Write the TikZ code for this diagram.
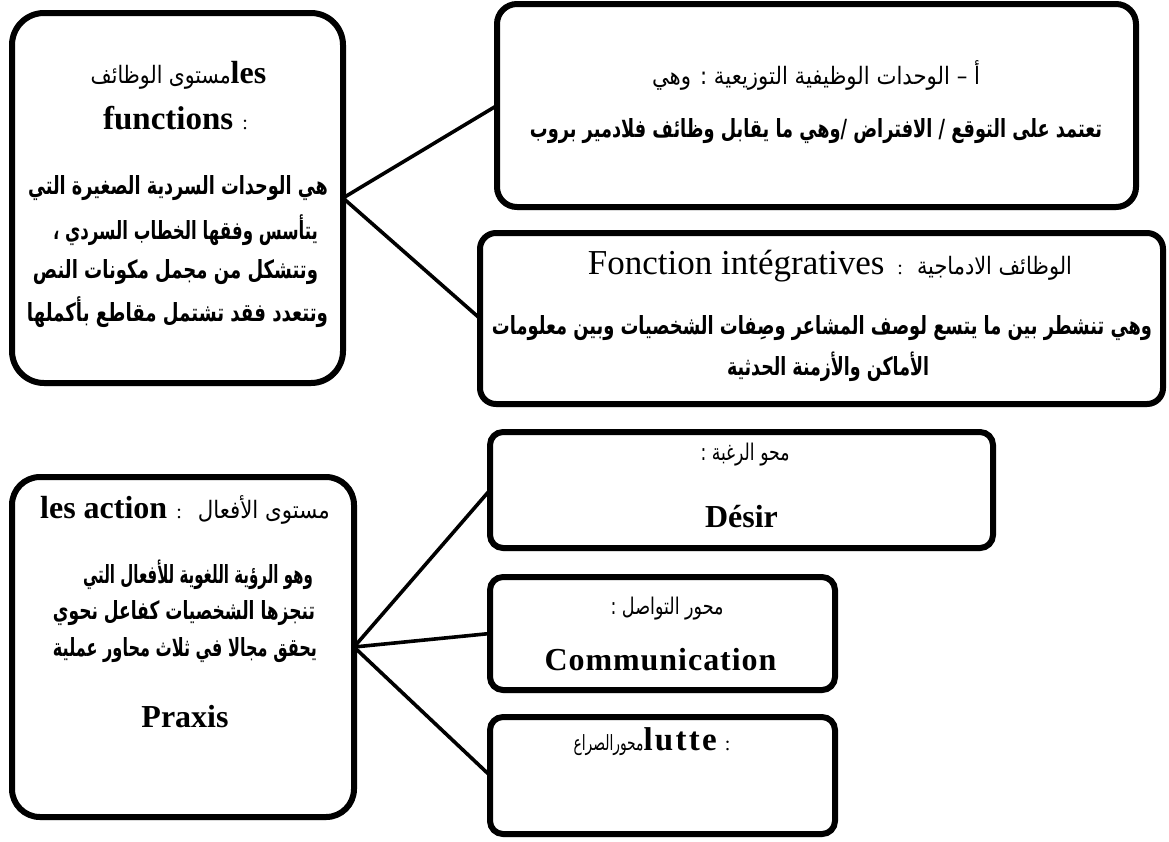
\documentclass[tikz,border=0pt]{standalone}
\usepackage{fontspec}
\usepackage{graphicx}
\setmainfont{Liberation Serif}
\newfontfamily\arabicfont[Script=Arabic]{DejaVu Sans}
\TeXXeTstate=1
\usetikzlibrary{shadows}
% Arabic run at a given size, stretched to a given width
\newcommand\arw[3]{\resizebox{#1pt}{\height}{{\arabicfont\fontsize{#2}{#2}\selectfont #3}}}
\newcommand\arwb[3]{\resizebox{#1pt}{\height}{{\arabicfont\bfseries\fontsize{#2}{#2}\selectfont #3}}}
\newcommand\lat[2]{{\fontsize{#1}{#1}\selectfont #2}}
\tikzset{
  card/.style={draw=black, line width=6pt, fill=white,
    drop shadow={shadow xshift=1pt, shadow yshift=-3pt, fill=black!35, opacity=0.5},
    inner sep=0pt, outer sep=0pt},
  anchorbox/.style={inner sep=0pt, outer sep=0pt},
  link/.style={draw=black, line width=3.6pt, line cap=round},
  lab/.style={inner sep=0pt, align=center},
}
\begin{document}
\begin{tikzpicture}[x=1pt, y=-1pt]
\useasboundingbox (0,0) rectangle (1169,841);

% boxes (border centre lines)
\path[card, rounded corners=32pt] (12,13) rectangle (343,383);
\node[anchorbox, minimum width=331pt, minimum height=370pt] (b1) at (177.5,198) {};
\path[card, rounded corners=20pt] (497,4) rectangle (1136,207);
\node[anchorbox, minimum width=639pt, minimum height=203pt] (b2) at (816.5,105.5) {};
\path[card, rounded corners=16pt] (480,233) rectangle (1163,404);
\node[anchorbox, minimum width=683pt, minimum height=171pt] (b3) at (821.5,318.5) {};
\path[card, rounded corners=28pt] (12,477) rectangle (354,817);
\node[anchorbox, minimum width=342pt, minimum height=340pt] (b4) at (183,647) {};
\path[card, rounded corners=13pt] (490,432) rectangle (993,548);
\node[anchorbox, minimum width=503pt, minimum height=116pt] (b5) at (741.5,490) {};
\path[card, rounded corners=13pt] (490,577) rectangle (835,690);
\node[anchorbox, minimum width=345pt, minimum height=113pt] (b6) at (662.5,633.5) {};
\path[card, rounded corners=13pt] (490,717) rectangle (835,834);
\node[anchorbox, minimum width=345pt, minimum height=117pt] (b7) at (662.5,775.5) {};

% connectors
\draw[link] (b1.east) -- (b2.west);
\draw[link] (b1.east) -- (b3.west);
\draw[link] (b4.east) -- (b5.west);
\draw[link] (b4.east) -- (b6.west);
\draw[link] (b4.east) -- (b7.west);

% level of functions
\node[lab] (t1a) at (178.5,75) {\arw{140}{24}{\beginR مستوى الوظائف\endR}\lat{32}{\bfseries les}};
\node[lab] (t1b) at (175.5,118) {\lat{33}{\bfseries functions}\hspace{9pt}\lat{20}{:}};
\node[lab] (t1c) at (178,188) {\arwb{300}{25}{\beginR هي الوحدات السردية الصغيرة التي\endR}};
\node[lab] (t1d) at (185.5,230) {\arwb{265}{25}{\beginR يتأسس وفقها الخطاب السردي ،\endR}};
\node[lab] (t1e) at (175.5,272) {\arwb{285}{25}{\beginR وتتشكل من مجمل مكونات النص\endR}};
\node[lab] (t1f) at (177.5,312) {\arwb{301}{25}{\beginR وتتعدد  فقد تشتمل مقاطع بأكملها\endR}};

% distributional units
\node[lab] (t2a) at (816,75) {\arw{328}{24}{\beginR أ – الوحدات الوظيفية التوزيعية : وهي\endR}};
\node[lab] (t2b) at (816,131) {\arwb{572}{25}{\beginR تعتمد على التوقع / الافتراض /وهي ما يقابل وظائف فلادمير بروب\endR}};

% integrative functions
\node[lab] (t3a) at (830,266) {\lat{35}{Fonction intégratives}\hspace{13pt}\lat{20}{:}\hspace{14pt}\arw{155}{24}{\beginR الوظائف الادماجية\endR}};
\node[lab] (t3b) at (822,328) {\arwb{660}{25}{\beginR وهي تنشطر بين ما يتسع لوصف المشاعر وصِفات الشخصيات وبين معلومات\endR}};
\node[lab] (t3c) at (828,367) {\arwb{202}{25}{\beginR الأماكن والأزمنة الحدثية\endR}};

% level of actions
\node[lab] (t4a) at (185,510) {\lat{32}{\bfseries les action}\hspace{9pt}\lat{20}{:}\hspace{16pt}\arw{132}{24}{\beginR مستوى الأفعال\endR}};
\node[lab] (t4b) at (198,575) {\arwb{230}{25}{\beginR وهو الرؤية اللغوية للأفعال التي\endR}};
\node[lab] (t4c) at (184,613) {\arwb{262}{25}{\beginR تنجزها الشخصيات كفاعل نحوي\endR}};
\node[lab] (t4d) at (185,650) {\arwb{264}{25}{\beginR يحقق مجالا في ثلاث محاور عملية\endR}};
\node[lab] (t4e) at (185,717) {\lat{32}{\bfseries Praxis}};

% three axes
\node[lab] (t5a) at (745,455) {\arw{89}{23}{\beginR محو الرغبة :\endR}};
\node[lab] (t5b) at (741.5,517) {\lat{32}{\bfseries Désir}};
\node[lab] (t6a) at (667,609) {\arw{113}{23}{\beginR محور التواصل :\endR}};
\node[lab] (t6b) at (660.5,660) {\lat{32}{\addfontfeatures{LetterSpace=3}\bfseries Communication}};
\node[lab] (t7a) at (652,742) {\arw{70}{21}{\beginR محورالصراع\endR}\lat{33}{\addfontfeatures{LetterSpace=7}\bfseries lutte}\hspace{8pt}\lat{20}{:}};
\end{tikzpicture}
\end{document}
